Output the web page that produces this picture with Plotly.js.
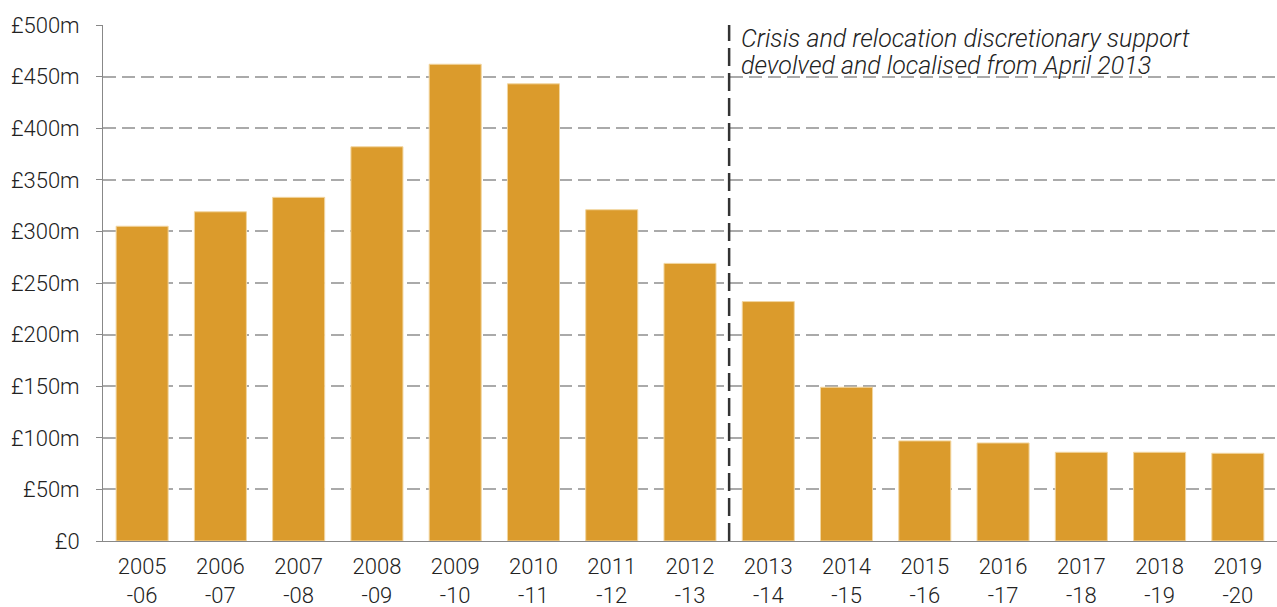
<!DOCTYPE html>
<html>
<head>
<meta charset="utf-8">
<script src="https://cdn.plot.ly/plotly-3.0.1.min.js"></script>
<style>html,body{margin:0;padding:0;background:#fff;}#chart{width:1277px;height:607px;}</style>
</head>
<body>
<div id="chart"></div>
<script>
const categories = ["2005<br>-06","2006<br>-07","2007<br>-08","2008<br>-09","2009<br>-10","2010<br>-11","2011<br>-12","2012<br>-13","2013<br>-14","2014<br>-15","2015<br>-16","2016<br>-17","2017<br>-18","2018<br>-19","2019<br>-20"];
const spending = [305, 319, 333, 382, 462, 443, 321, 269, 232, 149, 97, 95, 86, 86, 85];
const yTickValues = [0, 50, 100, 150, 200, 250, 300, 350, 400, 450, 500];
const yTickLabels = ["£0","£50m","£100m","£150m","£200m","£250m","£300m","£350m","£400m","£450m","£500m"];
const noteLines = ["Crisis and relocation discretionary support", "devolved and localised from April 2013"];
const devolutionPosition = 7.5;

const font = "Roboto, 'Open Sans', sans-serif";

const trace = {
  type: "bar",
  x: categories,
  y: spending,
  marker: {color: "#DB9B2C", line: {color: "#F2D6A0", width: 1}},
  hoverinfo: "x+y"
};

const annotations = noteLines.map((line, i) => ({
  xref: "x",
  yref: "paper",
  x: devolutionPosition,
  y: 1,
  xanchor: "left",
  yanchor: "middle",
  xshift: 10,
  yshift: -13 - 27 * i,
  align: "left",
  showarrow: false,
  text: "<i>" + line + "</i>",
  font: {family: font, size: 25, weight: 300, color: "#222"}
}));

const layout = {
  width: 1277,
  height: 607,
  margin: {l: 103, r: 0, t: 25, b: 66},
  paper_bgcolor: "#fff",
  plot_bgcolor: "#fff",
  showlegend: false,
  bargap: 0.335,
  font: {family: font, size: 22, weight: 300, color: "#222"},
  xaxis: {
    type: "category",
    showgrid: false,
    showline: true,
    linecolor: "#888",
    linewidth: 1,
    ticks: "",
    ticklabelstandoff: 6,
    tickfont: {family: font, size: 22, weight: 300, color: "#222"},
    fixedrange: true
  },
  yaxis: {
    range: [0, 500],
    tickvals: yTickValues,
    ticktext: yTickLabels,
    showgrid: true,
    gridcolor: "#AAAAAA",
    gridwidth: 2,
    griddash: "13px,6px",
    zeroline: false,
    showline: true,
    linecolor: "#888",
    linewidth: 1,
    ticks: "outside",
    ticklen: 6,
    tickcolor: "#888",
    tickwidth: 1,
    ticklabelstandoff: 12,
    tickfont: {family: font, size: 22, weight: 300, color: "#222"},
    fixedrange: true
  },
  shapes: [{
    type: "line",
    xref: "x",
    yref: "paper",
    x0: devolutionPosition,
    x1: devolutionPosition,
    y0: 0,
    y1: 1,
    line: {color: "#333", width: 2.5, dash: "18px,7px"}
  }],
  annotations: annotations
};

Plotly.newPlot("chart", [trace], layout, {displayModeBar: false, staticPlot: true});
</script>
</body>
</html>
